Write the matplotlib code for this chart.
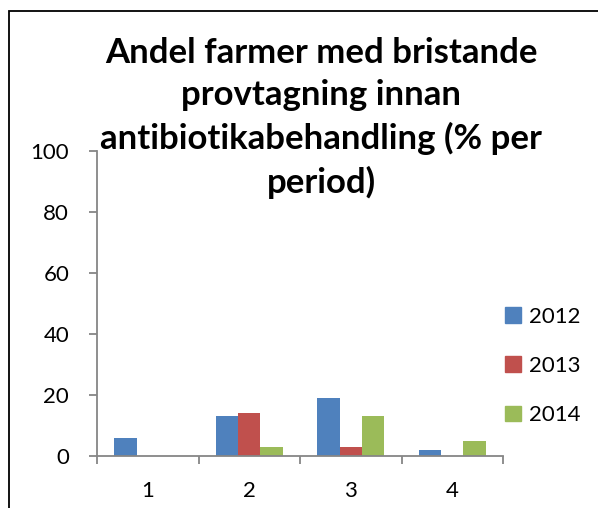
import matplotlib
matplotlib.use("Agg")
import matplotlib.pyplot as plt
import matplotlib.patches as mpatches
import numpy as np

# data
periods = ["1", "2", "3", "4"]
years = ["2012", "2013", "2014"]
v2012 = [6, 13, 19, 2]
v2013 = [0, 14, 3, 0]
v2014 = [0, 3, 13, 5]
colors = ["#4F81BD", "#C0504D", "#9BBB59"]

title = "Andel farmer med bristande\nprovtagning innan\nantibiotikabehandling (% per\nperiod)"

plt.rcParams["font.family"] = ["Lato", "DejaVu Sans"]

fig = plt.figure(figsize=(5.98, 5.08), dpi=100)
ax = fig.add_axes([97 / 598, 1 - 456 / 508, (503 - 97) / 598, (456 - 151) / 508])

x = np.arange(len(periods))
w = 0.22
for k, vals in enumerate([v2012, v2013, v2014]):
    ax.bar(x + (k - 1) * w, vals, width=w, color=colors[k], label=years[k], zorder=2)

ax.set_xlim(-0.5, len(periods) - 0.5)
ax.set_ylim(0, 100)
ax.set_yticks(range(0, 101, 20))

# ticks on category borders, labels in the middle
ax.set_xticks(np.arange(-0.5, len(periods), 1.0))
ax.set_xticklabels([])
ax.set_xticks(x, minor=True)
ax.set_xticklabels(periods, minor=True)

for s in ["top", "right"]:
    ax.spines[s].set_visible(False)
for s in ["left", "bottom"]:
    ax.spines[s].set_color("#868686")
    ax.spines[s].set_linewidth(1.3)

ax.tick_params(axis="y", which="major", length=6, width=1.3, color="#868686",
               labelsize=16, pad=14)
ax.tick_params(axis="x", which="major", length=6, width=1.3, color="#868686")
ax.tick_params(axis="x", which="minor", length=0, labelsize=16, pad=18)

# baseline here = baseline of the last title line
fig.text(0.537, 1 - 193 / 508, title, ha="center", va="baseline", ma="center",
         fontsize=25, fontweight="bold", linespacing=1.4)

handles = [mpatches.Patch(color=c) for c in colors]
fig.legend(handles, years, loc="center left", bbox_to_anchor=(485 / 598, 1 - 366 / 508),
           frameon=False, fontsize=16, handlelength=0.7, handleheight=0.7,
           handletextpad=0.4, labelspacing=1.32)

# outer chart border, cut off at right and bottom
fig.add_artist(mpatches.Rectangle((9 / 598, -0.1), 1.2, 1 - 11 / 508 + 0.1,
                                  transform=fig.transFigure, fill=False,
                                  edgecolor="black", linewidth=1.3))

fig.savefig("out.png", dpi=100)
